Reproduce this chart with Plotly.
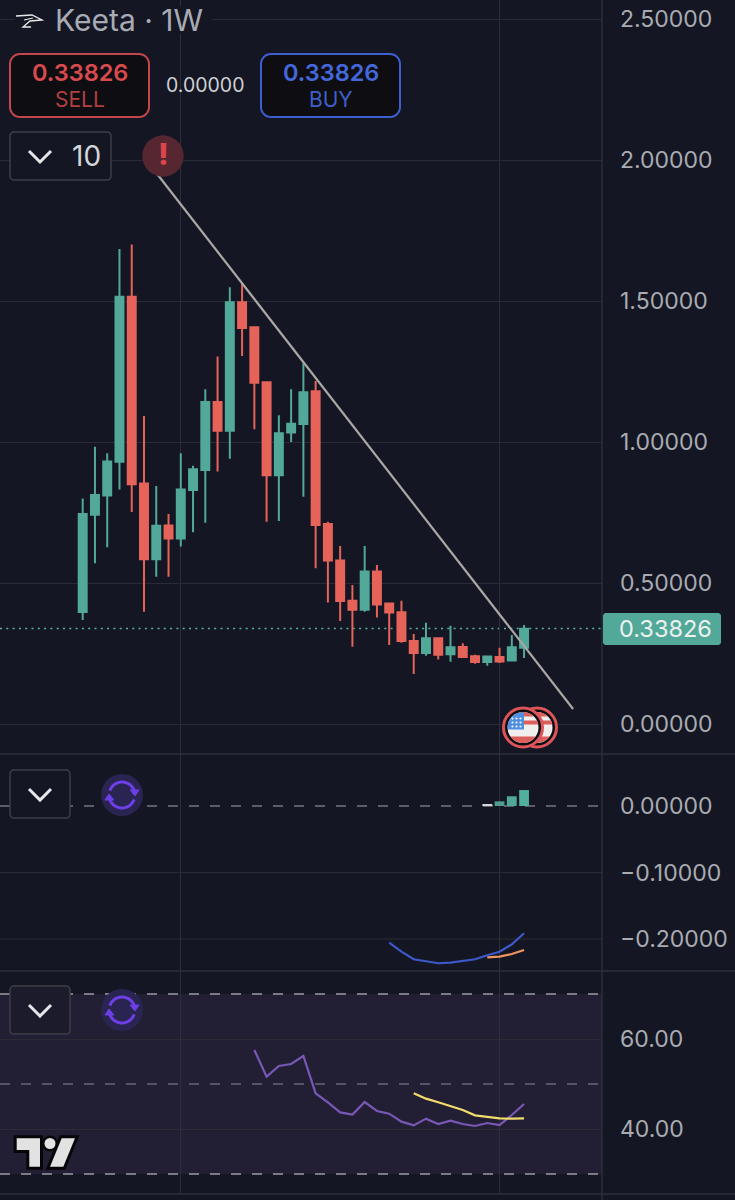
import math
import plotly.graph_objects as go

W, H = 735, 1200
PLOT_R = 602
P1_B, P2_B, P3_B = 754, 971, 1194

BG = "#141723"
GRID = "#292b37"
VLINE = "#2c2e3a"
UP = "#52a999"
DOWN = "#e6635a"
TICK = "#a9abb1"

# ---- data -----------------------------------------------------------
idx = list(range(37))
opens = [.397, .742, .810, .930, 1.515, .853, .584, .704, .658, .830, .901, 1.142, 1.040,
         1.496, 1.407, 1.212, .882, 1.034, 1.064, 1.180, .709, .580, .437, .405, .541,
         .427, .396, .294, .252, .304, .247, .273, .240, .220, .238, .225, .270]
closes = [.745, .812, .931, 1.515, .850, .584, .703, .658, .832, .903, 1.142, 1.040, 1.496,
          1.404, 1.210, .882, 1.031, 1.065, 1.176, .706, .580, .436, .405, .541, .424,
          .395, .294, .252, .304, .246, .272, .238, .220, .239, .222, .272, .338]
highs = [.800, .983, .960, 1.684, 1.700, 1.092, .844, .745, .960, .916, 1.187, 1.303, 1.549,
         1.563, 1.407, 1.214, 1.095, 1.187, 1.279, 1.216, .717, .631, .493, .631, .564,
         .427, .437, .319, .359, .304, .348, .286, .246, .239, .270, .316, .351]
lows = [.369, .570, .627, .832, .752, .398, .522, .522, .629, .680, .714, .895, .941,
        1.305, 1.045, .717, .720, 1.000, .806, .552, .431, .365, .274, .398, .378,
        .280, .288, .177, .242, .229, .221, .234, .214, .207, .216, .225, .234]

trend_x = [5.9, 40.0]
trend_y = [1.96, .053]
last_price = 0.33826

hist_x = [33, 34, 35, 36]
hist_y = [.002, .007, .0146, .024]
hist_colors = ["#d5d8da", "#4f9f91", "#4fa898", "#52ae9d"]

macd_x = list(range(25, 37))
macd_y = [-.2056, -.2191, -.2305, -.2335, -.2365, -.2356, -.2335, -.2305, -.2245, -.2191, -.2080, -.1914]
signal_x = [33, 34, 35, 36]
signal_y = [-.2275, -.2266, -.2226, -.2165]

rsi_x = list(range(14, 37))
rsi_y = [57.56, 51.63, 54.0, 54.44, 56.22, 47.93, 45.93, 43.7, 43.19, 46.0, 44.0, 43.41,
         41.63, 40.81, 42.3, 41.11, 41.85, 41.11, 40.67, 41.33, 40.89, 43.11, 45.56]
rsi_ma_x = list(range(27, 37))
rsi_ma_y = [47.93, 46.74, 45.93, 45.11, 44.22, 43.04, 42.67, 42.37, 42.3, 42.37]

price_ticks = [0, .5, 1, 1.5, 2, 2.5]
macd_ticks = [0, -.1, -.2]
macd_solid = [-.1, -.2]
rsi_ticks = [60, 40]
rsi_dash_bright = [70, 30]
rsi_dash_dim = [50]
vgrid = [8, 34]

price_labels = ["0.00000", "0.50000", "1.00000", "1.50000", "2.00000", "2.50000"]
macd_labels = ["0.00000", "\u22120.10000", "\u22120.20000"]
rsi_labels = ["60.00", "40.00"]


# ---- pixel helpers for UI chrome ------------------------------------
def fx(x): return x / W
def fy(y): return 1 - y / H


shapes, annos = [], []


def path_of(pts, close=False):
    s = "M " + " L ".join(f"{fx(x):.5f},{fy(y):.5f}" for x, y in pts)
    return s + (" Z" if close else "")


def poly(pts, fill=None, color=None, width=0, close=True, dash=None):
    ln = dict(color=color or "rgba(0,0,0,0)", width=width)
    if dash:
        ln["dash"] = dash
    d = dict(type="path", xref="paper", yref="paper", path=path_of(pts, close), line=ln, layer="above")
    if fill:
        d["fillcolor"] = fill
    shapes.append(d)


def round_rect(x0, y0, x1, y1, r, fill, color, width):
    pts = []
    for cx, cy, a0 in [(x1 - r, y0 + r, -90), (x1 - r, y1 - r, 0), (x0 + r, y1 - r, 90), (x0 + r, y0 + r, 180)]:
        for k in range(9):
            a = math.radians(a0 + k * 90 / 8)
            pts.append((cx + r * math.cos(a), cy + r * math.sin(a)))
    poly(pts, fill=fill, color=color, width=width)


def circle(cx, cy, r, fill, color=None, width=0):
    shapes.append(dict(type="circle", xref="paper", yref="paper", x0=fx(cx - r), x1=fx(cx + r),
                       y0=fy(cy + r), y1=fy(cy - r), fillcolor=fill,
                       line=dict(color=color or "rgba(0,0,0,0)", width=width), layer="above"))


def text(x, y, s, size, color, anchor="center", weight=None, family="Inter"):
    annos.append(dict(xref="paper", yref="paper", x=fx(x), y=fy(y), text=s, showarrow=False,
                      xanchor=anchor, yanchor="middle",
                      font=dict(size=size, color=color, family=family, weight=weight)))


def chevron(cx, cy):
    poly([(cx - 11, cy - 6), (cx, cy + 5), (cx + 11, cy - 6)], color="#e6e7ea", width=3, close=False)


def band(cx, cy, r, y0, y1, color):
    pts = []
    n = 8
    for k in range(n + 1):
        y = y0 + (y1 - y0) * k / n
        pts.append((cx + math.sqrt(max(r * r - y * y, 0)), cy + y))
    for k in range(n + 1):
        y = y1 + (y0 - y1) * k / n
        pts.append((cx - math.sqrt(max(r * r - y * y, 0)), cy + y))
    poly(pts, fill=color)


def flag_coin(cx, cy):
    circle(cx, cy, 19.5, "#0d0d12", "#dd5559", 3)
    circle(cx, cy, 15.5, "#f1eeee")
    band(cx, cy, 15.5, -15.4, -11, "#dd5f5c")
    band(cx, cy, 15.5, -7, -3, "#dd5f5c")
    band(cx, cy, 15.5, 9, 15.4, "#dd5f5c")
    pts = [(cx + 1, cy - 14.5), (cx + 1, cy + 2), (cx - 15.3, cy + 2)]
    for k in range(9):
        a = math.radians(187 + k * 10)
        pts.append((cx + 15.5 * math.cos(a), cy + 15.5 * math.sin(a)))
    poly(pts, fill="#4e8fe0")
    for dx in (-10.5, -6.5, -2.5):
        for dy in (-9, -5, -1):
            circle(cx + dx, cy + dy, 1.1, "#f4f6fb")


def reload_icon(cx, cy):
    circle(cx, cy, 21, "#2a2452")
    col = "#6d3fe6"
    for a0, a1 in [(-160, -10), (20, 170)]:
        pts = []
        for k in range(17):
            a = math.radians(a0 + (a1 - a0) * k / 16)
            pts.append((cx + 13 * math.cos(a), cy + 13 * math.sin(a)))
        poly(pts, color=col, width=3, close=False)
    poly([(cx + 8, cy - 5), (cx + 13, cy + 1), (cx + 17, cy - 5)], fill=col, color=col, width=1)
    poly([(cx - 17, cy + 5), (cx - 13, cy - 1), (cx - 8, cy + 5)], fill=col, color=col, width=1)


# ---- data-tied background shapes ------------------------------------
layer_shapes = []
layer_shapes.append(dict(type="rect", xref="x3 domain", x0=0, x1=1, yref="y3", y0=30, y1=70,
                         fillcolor="#221f35", line=dict(width=0), layer="below"))
for v in rsi_dash_bright:
    layer_shapes.append(dict(type="line", xref="x3 domain", x0=0, x1=1, yref="y3", y0=v, y1=v,
                             line=dict(color="#9a9aa3", width=1.6, dash="10px,11px"), layer="below"))
for v in rsi_dash_dim:
    layer_shapes.append(dict(type="line", xref="x3 domain", x0=0, x1=1, yref="y3", y0=v, y1=v,
                             line=dict(color="#66657a", width=1.5, dash="10px,11px"), layer="below"))
for v in macd_solid:
    layer_shapes.append(dict(type="line", xref="x2 domain", x0=0, x1=1, yref="y2", y0=v, y1=v,
                             line=dict(color=GRID, width=1.2), layer="below"))
layer_shapes.append(dict(type="line", xref="x2 domain", x0=0, x1=1, yref="y2", y0=0, y1=0,
                         line=dict(color="#74757d", width=1.5, dash="10px,11px"), layer="below"))
layer_shapes.append(dict(type="line", xref="x domain", x0=0, x1=1, yref="y", y0=last_price, y1=last_price,
                         line=dict(color="#58b0a0", width=1.5, dash="2px,4.3px"), layer="below"))

# panel separators and right border
for y in (P1_B, P2_B, P3_B):
    shapes.append(dict(type="line", xref="paper", yref="paper", x0=0, x1=1, y0=fy(y), y1=fy(y),
                       line=dict(color="#2d2f3a", width=1.5), layer="below"))
shapes.append(dict(type="line", xref="paper", yref="paper", x0=fx(PLOT_R), x1=fx(PLOT_R), y0=0, y1=1,
                   line=dict(color=VLINE, width=1.5), layer="below"))

# ---- chrome ---------------------------------------------------------
poly([(15, 6), (212, 6), (212, 34), (15, 34)], fill=BG)
poly([(16, 16), (32, 15), (42, 20), (30, 21), (23, 27), (31, 27)], color="#e9e9ec", width=1.3, close=False)
poly([(24, 20), (33, 18)], color="#e9e9ec", width=1.2, close=False)
text(53, 20, "Keeta \u00b7 1W", 30, "#a8abb4", anchor="left")

round_rect(10, 54, 149, 117, 10, "#0e0e12", "#c2474c", 2)
text(79.5, 72, "0.33826", 23.5, "#d94a4e", weight=600)
text(79.5, 99, "SELL", 21, "#b2403f")
text(205, 85, "0.00000", 19.5, "#cfd0d4")
round_rect(261, 54, 400, 117, 10, "#0e0e12", "#3d5fd2", 2)
text(330.5, 72, "0.33826", 23.5, "#4468dc", weight=600)
text(330.5, 99, "BUY", 21, "#3e5fc9")

round_rect(10, 132, 111, 180, 4, BG, "#3c3e47", 1.5)
chevron(40, 157)
text(86, 156, "10", 28, "#d4d5d8")
circle(163, 156, 20.7, "#562731")
text(163, 154, "!", 30, "#dd444b", weight=800)

round_rect(10, 770, 70, 818, 4, BG, "#3c3e47", 1.5)
chevron(40, 795)
reload_icon(122, 795)

round_rect(10, 986, 70, 1034, 4, "#1b1b2b", "#3c3e47", 1.5)
chevron(40, 1011)
reload_icon(122, 1010)

flag_coin(537, 727.5)
flag_coin(523, 727.5)

# TradingView mark
tv = "#e2e2e2"
ink = "#060608"
tee = [(16.7, 1138.3), (40, 1138.3), (40, 1166.7), (29.3, 1166.7), (29.3, 1150), (16.7, 1150)]
slash = [(61.7, 1138.3), (75, 1138.3), (63.3, 1166.7), (50, 1166.7)]
poly(tee, fill=ink, color=ink, width=6)
poly(slash, fill=ink, color=ink, width=6)
circle(50, 1143.5, 8, ink)
poly(tee, fill=tv)
poly(slash, fill=tv)
circle(50, 1143.5, 5.5, tv)

# last price tag
round_rect(603, 613, 721, 645, 3, "#52a999", None, 0)
annos.append(dict(xref="paper", yref="y", x=fx(665), y=last_price, text=f"{last_price:.5f}", showarrow=False,
                  xanchor="center", yanchor="middle", font=dict(size=23.5, color="#eaf1ef", family="Inter")))

# ---- traces ---------------------------------------------------------
fig = go.Figure()
fig.add_trace(go.Scatter(x=trend_x, y=trend_y, mode="lines", line=dict(color="#aaa7a4", width=2.2),
                         xaxis="x", yaxis="y", showlegend=False, hoverinfo="skip"))
fig.add_trace(go.Candlestick(
    x=idx, open=opens, high=highs, low=lows, close=closes,
    increasing=dict(line=dict(color=UP, width=2), fillcolor=UP),
    decreasing=dict(line=dict(color=DOWN, width=2), fillcolor=DOWN),
    whiskerwidth=0, xaxis="x", yaxis="y", showlegend=False, hoverinfo="skip"))
fig.add_trace(go.Bar(x=hist_x, y=hist_y, marker=dict(color=hist_colors, line=dict(width=0)), width=.8,
                     xaxis="x2", yaxis="y2", showlegend=False, hoverinfo="skip"))
fig.add_trace(go.Scatter(x=macd_x, y=macd_y, mode="lines", line=dict(color="#3d58c9", width=2.2),
                         xaxis="x2", yaxis="y2", showlegend=False, hoverinfo="skip"))
fig.add_trace(go.Scatter(x=signal_x, y=signal_y, mode="lines", line=dict(color="#ee9560", width=2.2),
                         xaxis="x2", yaxis="y2", showlegend=False, hoverinfo="skip"))
fig.add_trace(go.Scatter(x=rsi_x, y=rsi_y, mode="lines", line=dict(color="#7957b5", width=2.2),
                         xaxis="x3", yaxis="y3", showlegend=False, hoverinfo="skip"))
fig.add_trace(go.Scatter(x=rsi_ma_x, y=rsi_ma_y, mode="lines", line=dict(color="#f2dc6b", width=2.2),
                         xaxis="x3", yaxis="y3", showlegend=False, hoverinfo="skip"))

# ---- axes -----------------------------------------------------------
XR = [(0 - 82.7) / 12.26, (PLOT_R - 82.7) / 12.26]
xcommon = dict(range=XR, domain=[0, PLOT_R / W], tickmode="array", tickvals=vgrid, showticklabels=False,
               showgrid=True, gridcolor=VLINE, gridwidth=1.2, zeroline=False, showline=False, ticks="",
               rangeslider=dict(visible=False))


def yaxis_cfg(rng, top, bot, vals, labels, grid=True):
    return dict(range=rng, domain=[1 - bot / H, 1 - top / H], side="right", tickmode="array", tickvals=vals,
                ticktext=labels, showgrid=grid, gridcolor=GRID, gridwidth=1.2, zeroline=False, showline=False,
                ticks="", ticklabelstandoff=17, tickfont=dict(size=23, color=TICK, family="Inter"))


fig.update_layout(
    width=W, height=H, margin=dict(l=0, r=0, t=0, b=0, pad=0), autosize=False,
    paper_bgcolor=BG, plot_bgcolor=BG, showlegend=False, boxgap=.35, boxgroupgap=0, barmode="overlay",
    xaxis=dict(anchor="y", **xcommon),
    xaxis2=dict(anchor="y2", **xcommon),
    xaxis3=dict(anchor="y3", **xcommon),
    yaxis=dict(anchor="x", **yaxis_cfg([(724 - P1_B) / 282, 724 / 282], 0, P1_B, price_ticks, price_labels)),
    yaxis2=dict(anchor="x2", **yaxis_cfg([(806 - P2_B) / 665, (806 - P1_B) / 665], P1_B, P2_B, macd_ticks, macd_labels, grid=False)),
    yaxis3=dict(anchor="x3", **yaxis_cfg([60 - (P3_B - 1039) / 4.5, 60 + (1039 - P2_B) / 4.5], P2_B, P3_B, rsi_ticks, rsi_labels)),
    shapes=layer_shapes + shapes,
    annotations=annos,
)

fig.write_html("out.html", config=dict(displayModeBar=False),
               post_script="document.body.style.margin='0';document.body.style.overflow='hidden';")
